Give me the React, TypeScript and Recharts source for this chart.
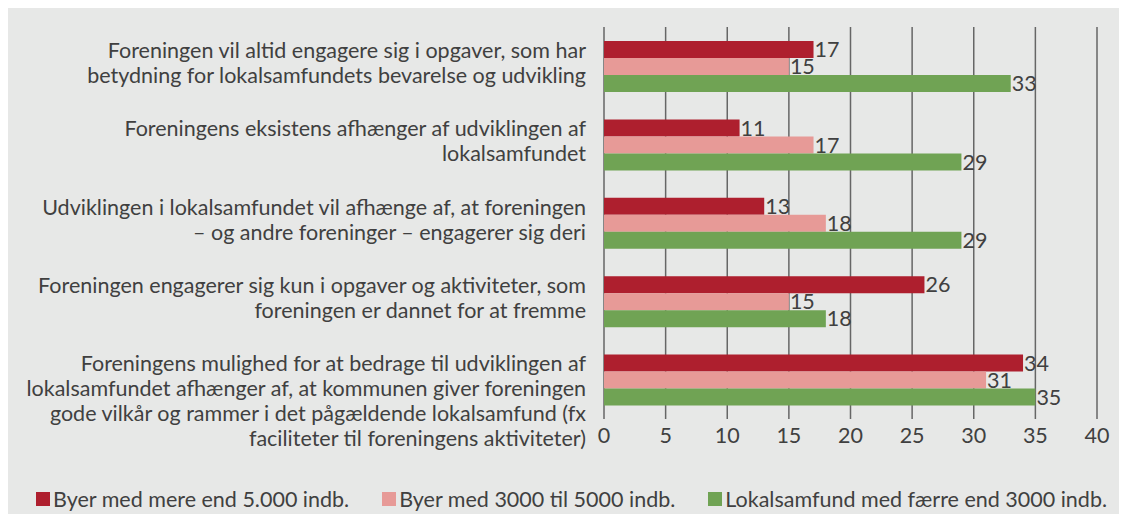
import React from "react";
import {
  Bar,
  BarChart,
  CartesianGrid,
  LabelList,
  Legend,
  XAxis,
  YAxis,
} from "recharts";

const statements = [
  "Foreningen vil altid engagere sig i opgaver, som har|betydning for lokalsamfundets bevarelse og udvikling",
  "Foreningens eksistens afhænger af udviklingen af|lokalsamfundet",
  "Udviklingen i lokalsamfundet vil afhænge af, at foreningen|– og andre foreninger – engagerer sig deri",
  "Foreningen engagerer sig kun i opgaver og aktiviteter, som|foreningen er dannet for at fremme",
  "Foreningens mulighed for at bedrage til udviklingen af|lokalsamfundet afhænger af, at kommunen giver foreningen|gode vilkår og rammer i det pågældende lokalsamfund (fx|faciliteter til foreningens aktiviteter)",
];

const largeTowns = [17, 11, 13, 26, 34];
const midTowns = [15, 17, 18, 15, 31];
const smallCommunities = [33, 29, 29, 18, 35];

const seriesNames = [
  "Byer med mere end 5.000 indb.",
  "Byer med 3000 til 5000 indb.",
  "Lokalsamfund med færre end 3000 indb.",
];
const seriesColors = ["#ae1f2e", "#e79a97", "#70a354"];

const xTicks = [0, 5, 10, 15, 20, 25, 30, 35, 40];

const data = statements.map((s, i) => ({
  label: s,
  large: largeTowns[i],
  mid: midTowns[i],
  small: smallCommunities[i],
}));

const textColor = "#404040";
const font = "Lato, 'Open Sans', sans-serif";
const fs = 21.5;

function StatementTick(props: any) {
  const { x, y, payload } = props;
  const lines = String(payload.value).split("|");
  return (
    <text x={x} y={y} textAnchor="end" fill={textColor} fontSize={fs} fontFamily={font}>
      {lines.map((line, i) => (
        <tspan key={i} x={x} y={y - 16 + i * 25} dy="0.35em">
          {line}
        </tspan>
      ))}
    </text>
  );
}

function LegendBox() {
  return (
    <div
      style={{
        display: "flex",
        alignItems: "center",
        height: 28,
        gap: 33,
        fontFamily: font,
        fontSize: fs,
        color: textColor,
      }}
    >
      {seriesNames.map((name, i) => (
        <div key={name} style={{ display: "flex", alignItems: "center" }}>
          <span
            style={{
              width: 14,
              height: 14,
              background: seriesColors[i],
              marginRight: 3,
              display: "inline-block",
            }}
          />
          <span>{name}</span>
        </div>
      ))}
    </div>
  );
}

export default function App() {
  return (
    <div style={{ width: 1115, height: 506, background: "#e7e8e7" }}>
      <BarChart
        width={1115}
        height={506}
        data={data}
        layout="vertical"
        barSize={17}
        barGap={0}
        margin={{ top: 19, right: 26, left: 0, bottom: 37 }}
      >
        <CartesianGrid horizontal={false} stroke="#666" strokeWidth={1.5} />
        <XAxis
          type="number"
          domain={[0, 40]}
          ticks={xTicks}
          axisLine={false}
          tickLine={false}
          tickSize={0}
          tickMargin={9}
          interval={0}
          tick={{ fill: textColor, fontSize: fs, fontFamily: font }}
        />
        <YAxis
          type="category"
          dataKey="label"
          width={596}
          axisLine={false}
          tickLine={false}
          tickSize={0}
          tickMargin={18}
          interval={0}
          tick={<StatementTick />}
        />
        <Legend
          verticalAlign="bottom"
          content={<LegendBox />}
          wrapperStyle={{ left: 28, bottom: 1, width: "auto" }}
        />
        <Bar dataKey="large" name={seriesNames[0]} fill={seriesColors[0]} isAnimationActive={false}>
          <LabelList dataKey="large" position="right" offset={1} fill={textColor} fontSize={fs} fontFamily={font} />
        </Bar>
        <Bar dataKey="mid" name={seriesNames[1]} fill={seriesColors[1]} isAnimationActive={false}>
          <LabelList dataKey="mid" position="right" offset={1} fill={textColor} fontSize={fs} fontFamily={font} />
        </Bar>
        <Bar dataKey="small" name={seriesNames[2]} fill={seriesColors[2]} isAnimationActive={false}>
          <LabelList dataKey="small" position="right" offset={1} fill={textColor} fontSize={fs} fontFamily={font} />
        </Bar>
      </BarChart>
    </div>
  );
}
